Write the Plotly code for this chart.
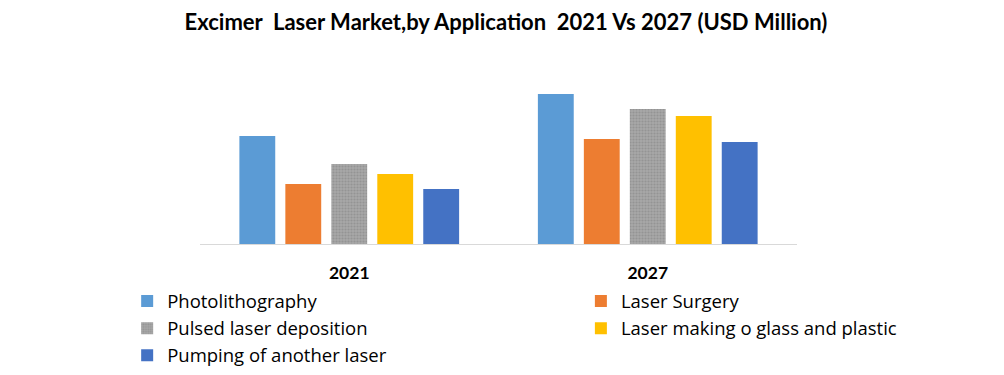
import plotly.graph_objects as go

years = ["2021", "2027"]
series_names = ["Photolithography", "Laser Surgery", "Pulsed laser deposition",
                "Laser making o glass and plastic", "Pumping of another laser"]
photolithography = [108, 150]
laser_surgery = [60, 105]
pulsed_laser_deposition = [80, 135]
laser_making = [70, 128]
pumping = [55, 102]
colors = ["#5B9BD5", "#ED7D31", "#A5A5A5", "#FFC000", "#4472C4"]
legend_ids = ["legend", "legend2", "legend", "legend2", "legend"]

values = [photolithography, laser_surgery, pulsed_laser_deposition, laser_making, pumping]

fig = go.Figure()
for name, vals, c, lg in zip(series_names, values, colors, legend_ids):
    marker = dict(color=c, line=dict(width=0))
    if name == "Pulsed laser deposition":
        marker["pattern"] = dict(shape=".", bgcolor="#A8A8A8", fgcolor="#949494",
                                 size=3, solidity=0.4, fillmode="replace")
    fig.add_trace(go.Bar(x=years, y=vals, name=name, legend=lg, marker=marker))

legend_common = dict(orientation="v", yanchor="top", xanchor="left",
                     font=dict(family="Open Sans", size=18.5, color="black"),
                     traceorder="normal", itemwidth=30, bgcolor="rgba(0,0,0,0)",
                     tracegroupgap=0)

fig.update_layout(
    width=996, height=367,
    paper_bgcolor="white", plot_bgcolor="white",
    margin=dict(l=192, r=207, t=46, b=131, autoexpand=False),
    barmode="group", bargap=0.23, bargroupgap=0.22,
    title=dict(text="<b>Excimer&nbsp; Laser Market,by Application&nbsp; 2021 Vs 2027 (USD Million)</b>",
               x=0.5, xanchor="center", y=0.962, yanchor="middle",
               font=dict(family="Lato", size=22, color="black")),
    font=dict(family="Lato", color="black"),
    xaxis=dict(showline=True, linecolor="#D9D9D9", linewidth=1, ticks="",
               ticklabelstandoff=13,
               tickfont=dict(family="Lato", size=17.5, color="black", weight="bold")),
    yaxis=dict(visible=False, range=[0, 190], showgrid=False),
    legend=dict(x=-0.122, y=-0.203, **legend_common),
    legend2=dict(x=0.638, y=-0.203, **legend_common),
    showlegend=True,
)
fig.write_html("out.html")
